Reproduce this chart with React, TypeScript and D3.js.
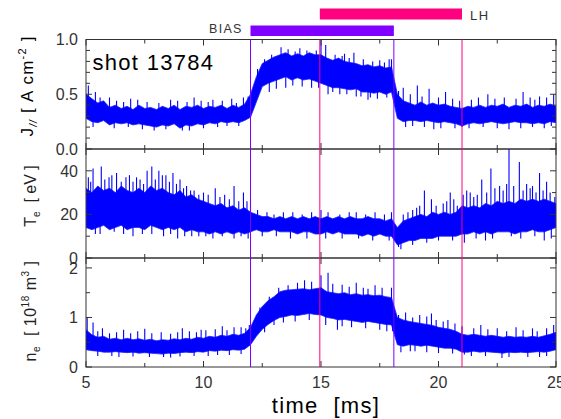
import React from 'react';
import * as d3 from 'd3';

// sample grid (ms)
const times = d3.range(0, 81).map(i => 5 + i * 0.25);

// J// envelope [A cm^-2]
const jHi = [0.50,0.46,0.42,0.44,0.38,0.40,0.37,0.39,0.36,0.40,0.37,0.38,0.36,0.39,0.37,0.40,0.36,0.39,0.38,0.40,0.37,0.39,0.38,0.40,0.37,0.40,0.38,0.41,0.50,0.66,0.78,0.81,0.84,0.86,0.88,0.85,0.87,0.85,0.88,0.86,0.86,0.83,0.81,0.83,0.80,0.79,0.78,0.76,0.77,0.75,0.76,0.74,0.75,0.50,0.44,0.42,0.40,0.43,0.40,0.42,0.40,0.41,0.39,0.38,0.37,0.39,0.38,0.40,0.38,0.40,0.39,0.41,0.38,0.40,0.39,0.41,0.38,0.40,0.39,0.41,0.39];
const jLo = [0.28,0.25,0.24,0.26,0.22,0.24,0.23,0.24,0.22,0.23,0.22,0.21,0.20,0.22,0.21,0.23,0.19,0.22,0.21,0.23,0.22,0.24,0.23,0.25,0.24,0.25,0.24,0.26,0.29,0.43,0.57,0.60,0.62,0.64,0.66,0.63,0.65,0.63,0.64,0.62,0.60,0.58,0.56,0.56,0.55,0.54,0.55,0.52,0.52,0.51,0.52,0.50,0.52,0.28,0.25,0.26,0.26,0.25,0.26,0.25,0.24,0.25,0.24,0.23,0.21,0.23,0.24,0.23,0.24,0.25,0.24,0.23,0.24,0.25,0.24,0.24,0.23,0.24,0.23,0.25,0.24];
const jSpikes: [number, number][] = [
  [5.1,0.58],[5.4,0.52],[6.0,0.47],[6.9,0.46],[7.9,0.17],[8.6,0.45],[9.1,0.17],[9.6,0.47],[10.4,0.45],[11.2,0.46],[11.7,0.47],
  [5.6,0.47],[6.3,0.44],[6.6,0.43],[7.2,0.45],[7.6,0.43],[8.1,0.42],[8.9,0.44],[9.3,0.43],[9.9,0.44],[10.2,0.43],[10.8,0.44],[11.4,0.42],[11.9,0.48],
  [5.3,0.20],[6.2,0.19],[6.8,0.20],[7.4,0.18],[8.4,0.18],[9.4,0.17],[10.0,0.19],[10.6,0.20],[11.0,0.21],[11.5,0.21],
  [12.3,0.73],[13.3,0.93],[14.1,0.92],[14.6,0.56],[15.0,1.0],[15.2,0.95],[15.3,0.50],[16.0,0.87],[16.4,0.88],[16.5,0.48],[17.0,0.45],[17.9,0.82],
  [12.6,0.82],[12.9,0.86],[13.6,0.91],[13.9,0.89],[14.4,0.90],[14.8,0.90],[15.6,0.86],[15.9,0.85],[16.2,0.83],[16.8,0.82],[17.2,0.80],[17.5,0.81],[17.7,0.79],[18.0,0.82],
  [12.8,0.52],[13.1,0.55],[13.5,0.56],[13.8,0.58],[14.2,0.57],[14.9,0.56],[15.5,0.52],[15.8,0.50],[16.1,0.50],[16.7,0.48],[17.1,0.47],[17.4,0.46],[17.8,0.47],
  [18.5,0.56],[19.1,0.58],[19.6,0.55],[19.8,0.18],[20.3,0.52],[21.0,0.20],[22.1,0.50],[23.0,0.18],[23.6,0.52],[24.3,0.48],[24.9,0.50],
  [18.3,0.53],[18.8,0.50],[19.3,0.48],[20.0,0.47],[20.6,0.46],[20.9,0.44],[21.4,0.45],[21.7,0.47],[22.4,0.46],[22.8,0.47],[23.3,0.46],[23.9,0.47],[24.1,0.45],[24.6,0.47],
  [18.6,0.20],[18.9,0.21],[19.4,0.20],[20.1,0.19],[20.7,0.19],[21.3,0.19],[21.9,0.20],[22.5,0.19],[23.5,0.19],[24.0,0.20],[24.5,0.19],[24.8,0.21]
];

// Te envelope [eV]
const teHi = [32,30,33,31,32,30,33,31,30,32,30,33,31,32,30,29,31,28,29,27,26,25,24,25,23,24,22,23,21,20,19,19,18,19,18,19,18,19,18,19,18,19,18,19,18,19,18,18,19,18,18,17,18,14,17,18,19,20,19,21,20,21,20,21,24,23,24,23,25,24,26,25,26,25,27,26,27,26,27,26,25];
const teLo = [14,13,14,15,13,14,15,13,14,14,13,15,14,13,14,13,14,12,13,12,12,11,12,11,12,11,12,11,12,13,12,12,13,12,12,12,11,12,12,11,11,12,11,12,11,11,11,10,11,10,11,10,10,6,7,8,8,9,9,9,10,10,10,10,11,11,12,11,12,11,12,12,12,11,12,12,13,12,12,13,14];
const teSpikes: [number, number][] = [
  [5.1,37],[5.3,41],[5.65,42],[5.98,37],[6.3,39],[6.7,37],[7.0,35],[7.3,36],[7.6,40],[7.8,42],[8.1,40],[8.4,38],[8.7,39],[9.0,36],[9.28,33],[9.6,31],[10.0,30],[10.5,32],[10.9,29],[11.3,33],[11.7,30],[12.0,27],
  [5.2,35],[5.8,36],[6.1,38],[6.5,35],[6.85,38],[7.15,37],[7.45,34],[7.95,36],[8.25,38],[8.55,35],[8.85,34],[9.15,32],[9.45,31],[9.8,29],[10.2,29],[10.7,28],[11.1,27],[11.5,26],[11.85,26],
  [5.4,11],[5.6,11],[6.2,12],[6.6,11],[7.0,10],[7.4,11],[7.8,11],[8.3,10],[8.6,11],[8.9,9],[9.2,10],[9.5,10],[9.8,10],[10.1,10],[10.4,9],[10.8,10],[11.3,9],[11.6,10],[11.9,9],
  [13.4,21],[14.6,21],[16.5,21],[17.7,20],[12.3,22],[12.7,21],[13.0,20],[13.8,21],[14.2,20],[15.0,22],[15.3,21],[15.8,20],[16.2,21],[16.9,20],[17.3,21],[18.0,21],
  [12.5,10],[13.1,10],[13.7,9],[14.4,9],[15.2,9],[15.9,9],[16.6,9],[17.2,8],[17.9,8],
  [18.7,21],[19.07,23],[19.4,31],[19.7,27],[20.2,25],[20.5,30],[20.8,24],[21.2,31],[21.5,28],[21.84,36],[22.23,41],[22.6,33],[22.9,34],[23.0,50],[23.44,44],[23.75,34],[24.0,33],[24.3,39],[24.6,35],
  [18.5,20],[18.9,22],[19.2,24],[19.9,24],[20.35,26],[20.65,27],[21.05,29],[21.35,30],[21.65,29],[22.05,30],[22.4,32],[22.75,31],[23.2,33],[23.6,31],[23.9,32],[24.15,30],[24.45,31],[24.75,30],[24.95,28],
  [18.3,5],[18.4,4],[18.9,6],[19.5,7],[20.0,8],[20.6,8],[21.1,7],[21.6,9],[22.0,8],[22.3,9],[23.1,10],[23.5,9],[24.1,10],[24.5,8],[24.8,9]
];

// ne envelope [10^18 m^-3]
const neHi = [0.75,0.65,0.60,0.62,0.56,0.58,0.55,0.58,0.55,0.57,0.54,0.56,0.53,0.55,0.54,0.57,0.55,0.58,0.56,0.60,0.58,0.62,0.60,0.64,0.62,0.66,0.64,0.68,0.80,1.05,1.22,1.34,1.42,1.52,1.55,1.56,1.57,1.58,1.56,1.58,1.60,1.52,1.50,1.48,1.50,1.46,1.48,1.45,1.46,1.44,1.45,1.42,1.40,1.00,0.95,0.92,0.90,0.88,0.86,0.84,0.80,0.78,0.76,0.72,0.66,0.64,0.66,0.64,0.62,0.64,0.62,0.60,0.62,0.60,0.61,0.60,0.62,0.60,0.63,0.66,0.70];
const neLo = [0.35,0.33,0.32,0.30,0.30,0.31,0.30,0.29,0.30,0.28,0.29,0.28,0.27,0.26,0.28,0.27,0.29,0.30,0.29,0.31,0.30,0.33,0.32,0.34,0.33,0.35,0.34,0.36,0.45,0.62,0.76,0.86,0.94,1.00,1.02,1.05,1.04,1.06,1.08,1.06,1.05,1.00,0.98,0.95,0.96,0.94,0.92,0.90,0.92,0.90,0.88,0.86,0.85,0.45,0.42,0.45,0.44,0.42,0.44,0.42,0.40,0.38,0.38,0.36,0.30,0.30,0.32,0.30,0.31,0.30,0.29,0.28,0.30,0.29,0.30,0.29,0.30,0.31,0.30,0.32,0.35];
const neSpikes: [number, number][] = [
  [5.05,1.0],[5.3,0.9],[5.7,0.78],[6.6,0.75],[7.5,0.77],[8.2,0.70],[9.1,0.78],[9.9,0.75],[10.8,0.82],[11.3,0.80],[11.8,0.78],
  [5.5,0.72],[6.0,0.68],[6.3,0.70],[6.9,0.68],[7.2,0.72],[7.8,0.68],[8.6,0.67],[8.9,0.70],[9.4,0.72],[9.7,0.70],[10.1,0.74],[10.5,0.76],[11.0,0.74],[11.6,0.80],[11.95,0.85],
  [5.5,0.22],[6.1,0.22],[6.4,0.20],[7.0,0.21],[7.7,0.20],[8.3,0.20],[8.6,0.19],[9.0,0.21],[9.6,0.22],[10.2,0.22],[10.6,0.24],[11.1,0.24],[11.6,0.26],
  [13.0,0.85],[14.3,1.75],[15.0,1.85],[15.3,1.90],[15.7,0.75],[16.5,1.70],[17.3,1.65],[17.8,0.72],
  [12.4,1.20],[12.8,1.42],[13.2,1.60],[13.6,1.65],[14.0,1.70],[14.6,1.72],[15.5,1.68],[15.9,1.66],[16.2,1.62],[16.8,1.60],[17.0,1.58],[17.6,1.60],[18.0,1.60],
  [12.6,0.70],[13.4,0.90],[13.9,0.92],[14.5,0.95],[15.2,0.85],[15.9,0.82],[16.3,0.80],[16.9,0.78],[17.5,0.75],[18.05,0.72],
  [18.6,1.10],[19.2,1.05],[19.7,1.08],[20.4,0.95],[21.8,0.85],[22.5,0.78],[23.3,0.80],[24.0,0.78],[24.9,0.85],
  [18.3,1.05],[18.9,1.00],[19.5,1.02],[19.9,0.95],[20.2,0.92],[20.7,0.88],[21.0,0.82],[21.5,0.78],[22.1,0.76],[22.9,0.72],[23.6,0.74],[24.2,0.72],[24.6,0.78],
  [18.4,0.30],[18.8,0.32],[19.0,0.32],[19.5,0.30],[20.0,0.28],[20.6,0.27],[21.1,0.25],[21.4,0.22],[22.0,0.22],[22.7,0.18],[23.0,0.20],[23.8,0.20],[24.3,0.20],[24.6,0.22]
];

const xMajor = [5, 10, 15, 20, 25];
const xMinor = [7.5, 12.5, 17.5, 22.5];
const xLabels = ['5', '10', '15', '20', '25'];

const jMajor = [0, 0.5, 1.0];
const jMinor = [0.1, 0.2, 0.3, 0.4, 0.6, 0.7, 0.8, 0.9];
const jLabels = ['0.0', '0.5', '1.0'];
const teMajor = [0, 20, 40];
const teMinor = [10, 30];
const teLabels = ['0', '20', '40'];
const neMajor = [0, 1, 2];
const neMinor = [0.5, 1.5];
const neLabels = ['0', '1', '2'];

const bias = [12, 18.1];
const lh = [14.95, 21.0];

const W = 561, H = 419;
const X0 = 86, X1 = 556;
const FONT = 'Liberation Sans, Arial, Helvetica, sans-serif';
const AXIS = '#333';
const BLUE = '#0000ff';
const PURPLE = '#8000ff';
const PINK = '#ff0080';

const x = d3.scaleLinear().domain([5, 25]).range([X0, X1]);

type Panel = { id: string; top: number; bottom: number; domain: [number, number]; major: number[]; minor: number[]; labels: string[]; hi: number[]; lo: number[]; spikes: [number, number][] };

const panels: Panel[] = [
  { id: 'j', top: 39.5, bottom: 149, domain: [0, 1], major: jMajor, minor: jMinor, labels: jLabels, hi: jHi, lo: jLo, spikes: jSpikes },
  { id: 'te', top: 149, bottom: 258, domain: [0, 50], major: teMajor, minor: teMinor, labels: teLabels, hi: teHi, lo: teLo, spikes: teSpikes },
  { id: 'ne', top: 258, bottom: 367, domain: [0, 2.2], major: neMajor, minor: neMinor, labels: neLabels, hi: neHi, lo: neLo, spikes: neSpikes },
];

function PanelView({ p }: { p: Panel }) {
  const y = d3.scaleLinear().domain(p.domain).range([p.bottom, p.top]);
  const area = d3.area<number>()
    .x((_, i) => x(times[i]))
    .y0((_, i) => y(p.lo[i]))
    .y1((_, i) => y(p.hi[i]));
  const path = area(times) || '';
  const clipId = 'clip-' + p.id;
  return (
    <g>
      <defs>
        <clipPath id={clipId}>
          <rect x={X0} y={p.top} width={X1 - X0} height={p.bottom - p.top} />
        </clipPath>
      </defs>
      <g clipPath={`url(#${clipId})`}>
        <path d={path} fill={BLUE} stroke="#2020ff" strokeWidth={0.8} />
        {p.spikes.map(([t, v], k) => {
          const i = Math.max(0, Math.min(times.length - 1, Math.round((t - 5) / 0.25)));
          const mid = (p.hi[i] + p.lo[i]) / 2;
          return <line key={k} x1={x(t)} x2={x(t)} y1={y(mid)} y2={y(v)} stroke={BLUE} strokeWidth={1.1} />;
        })}
      </g>
      <rect x={X0} y={p.top} width={X1 - X0} height={p.bottom - p.top} fill="none" stroke={AXIS} strokeWidth={1} />
      {xMajor.map(t => (
        <g key={'xM' + t}>
          <line x1={x(t)} x2={x(t)} y1={p.bottom} y2={p.bottom - 6} stroke={AXIS} />
          <line x1={x(t)} x2={x(t)} y1={p.top} y2={p.top + 6} stroke={AXIS} />
        </g>
      ))}
      {xMinor.map(t => (
        <g key={'xm' + t}>
          <line x1={x(t)} x2={x(t)} y1={p.bottom} y2={p.bottom - 4} stroke={AXIS} />
          <line x1={x(t)} x2={x(t)} y1={p.top} y2={p.top + 4} stroke={AXIS} />
        </g>
      ))}
      {p.major.map(v => (
        <g key={'yM' + v}>
          <line x1={X0} x2={X0 + 6} y1={y(v)} y2={y(v)} stroke={AXIS} />
          <line x1={X1} x2={X1 - 6} y1={y(v)} y2={y(v)} stroke={AXIS} />
        </g>
      ))}
      {p.minor.map(v => (
        <g key={'ym' + v}>
          <line x1={X0} x2={X0 + 4} y1={y(v)} y2={y(v)} stroke={AXIS} />
          <line x1={X1} x2={X1 - 4} y1={y(v)} y2={y(v)} stroke={AXIS} />
        </g>
      ))}
      {p.major.map((v, k) => (
        <text key={'yl' + v} x={78} y={y(v)} dy="0.36em" textAnchor="end" fontFamily={FONT} fontSize={16} fill="#333">{p.labels[k]}</text>
      ))}
    </g>
  );
}

export default function App() {
  const top = panels[0].top;
  const bottom = panels[2].bottom;
  return (
    <svg width={W} height={H} viewBox={`0 0 ${W} ${H}`} style={{ position: 'absolute', left: 0, top: 0, background: '#fff' }}>
      <rect x={0} y={0} width={W} height={H} fill="#fff" />
      {panels.map(p => <PanelView key={p.id} p={p} />)}

      <line x1={x(bias[0])} x2={x(bias[0])} y1={top} y2={bottom} stroke={PURPLE} strokeWidth={1} />
      <line x1={x(bias[1])} x2={x(bias[1])} y1={top} y2={bottom} stroke={PURPLE} strokeWidth={1} />
      <line x1={x(lh[0])} x2={x(lh[0])} y1={top} y2={bottom} stroke={PINK} strokeWidth={1} />
      <line x1={x(lh[1])} x2={x(lh[1])} y1={top} y2={bottom} stroke={PINK} strokeWidth={1} />

      <rect x={x(bias[0])} y={25.5} width={x(bias[1]) - x(bias[0])} height={10.5} fill={PURPLE} />
      <rect x={x(lh[0])} y={8.5} width={x(lh[1]) - x(lh[0])} height={11} fill={PINK} />
      <text x={209} y={32.5} fontFamily={FONT} fontSize={12.5} letterSpacing={1.3} fill="#333">BIAS</text>
      <text x={470} y={19.5} fontFamily={FONT} fontSize={13} letterSpacing={1.5} fill="#333">LH</text>

      <text x={92.5} y={69.5} fontFamily={FONT} fontSize={22} letterSpacing={1.3} fill="#000">shot 13784</text>

      {xMajor.map((t, k) => (
        <text key={'xl' + t} x={x(t)} y={388} textAnchor="middle" fontFamily={FONT} fontSize={16} fill="#333">{xLabels[k]}</text>
      ))}
      <text x={326} y={413} textAnchor="middle" fontFamily={FONT} fontSize={22} letterSpacing={1.3} fill="#000" style={{ whiteSpace: 'pre' }}>{'time  [ms]'}</text>

      <text transform="translate(33,86) rotate(-90)" textAnchor="middle" fontFamily={FONT} fontSize={17} letterSpacing={1.2} fill="#000" style={{ whiteSpace: 'pre' }}>
        J<tspan fontSize={10} dy={4} fontStyle="italic">//</tspan><tspan dy={-4}>{' [ A cm'}</tspan><tspan fontSize={11} dy={-7}>-2</tspan><tspan dy={7}>{' ]'}</tspan>
      </text>
      <text transform="translate(36,196) rotate(-90)" textAnchor="middle" fontFamily={FONT} fontSize={16} fill="#222" style={{ whiteSpace: 'pre' }}>
        T<tspan fontSize={10} dy={4}>e</tspan><tspan dy={-4}>{'  [ eV ]'}</tspan>
      </text>
      <text transform="translate(36,311) rotate(-90)" textAnchor="middle" fontFamily={FONT} fontSize={16} letterSpacing={0.5} fill="#222" style={{ whiteSpace: 'pre' }}>
        n<tspan fontSize={10} dy={4}>e</tspan><tspan dy={-4}>{'  [ 10'}</tspan><tspan fontSize={10} dy={-7}>18</tspan><tspan dy={7}>{' m'}</tspan><tspan fontSize={10} dy={-7}>3</tspan><tspan dy={7}>{' ]'}</tspan>
      </text>
    </svg>
  );
}
